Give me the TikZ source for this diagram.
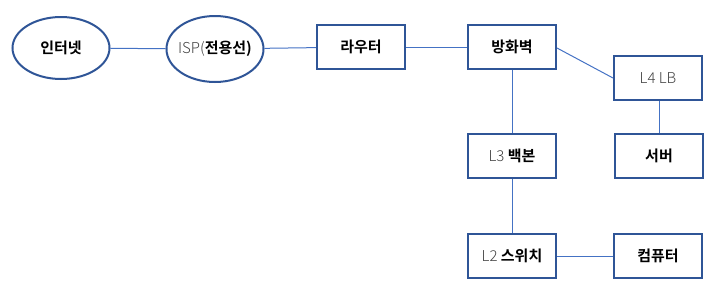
\documentclass[tikz,border=0pt]{standalone}
\usepackage{fontspec}
\setmainfont{Noto Sans CJK KR}[BoldFont={Noto Sans CJK KR Bold}]
\newfontfamily\lightfont{Noto Sans CJK KR Light}
\usetikzlibrary{shapes.geometric}
\definecolor{bordercol}{HTML}{2F5597}
\definecolor{linecol}{HTML}{4472C4}
\definecolor{textgrey}{HTML}{404040}
\newcommand{\lt}[1]{{\mdseries\lightfont #1}}
\newcommand{\bk}[1]{\textcolor{black}{#1}}
\begin{document}
\begin{tikzpicture}[x=1pt,y=-1pt,
  boxnode/.style={draw=bordercol,line width=2pt,minimum width=88pt,minimum height=44pt,inner sep=0pt,font=\fontsize{15}{17}\selectfont\bfseries},
  ellnode/.style={draw=bordercol,line width=2pt,ellipse,minimum width=97pt,minimum height=62pt,inner sep=0pt,font=\fontsize{15}{17}\selectfont\bfseries},
  txtnode/.style={inner sep=0pt,text=textgrey,font=\fontsize{15}{17}\selectfont\bfseries},
  conn/.style={draw=linecol,line width=1pt}]
\useasboundingbox (0,0) rectangle (713,290);
\node[ellnode] (inet) at (61,48) {인터넷};
\node[ellnode,minimum height=66pt] (isp) at (215,49) {};
\node[boxnode] (router) at (361,47) {라우터};
\node[boxnode] (fw) at (512,47) {방화벽};
\node[boxnode] (lb) at (658,78) {};
\node[boxnode] (l3) at (512,156) {};
\node[boxnode] (srv) at (659,156) {서버};
\node[boxnode] (l2) at (512,256) {};
\node[boxnode] (pc) at (658,256) {컴퓨터};
\draw[conn] (inet) -- (isp);
\draw[conn] (isp) -- (router);
\draw[conn] (router) -- (fw);
\draw[conn] (fw.east) ++(0,1) coordinate (fwe) (fwe) -- (lb.west);
\draw[conn] (fw) -- (l3);
\draw[conn] (l3) -- (l2);
\draw[conn] (lb.south -| srv) -- (srv);
\draw[conn] (l2) -- (pc);
\node[txtnode] (ispt) at (isp) {\lt{ISP(}\bk{전용선)}};
\node[txtnode] (lbt) at (lb) {\lt{L4 LB}};
\node[txtnode] (l3t) at (l3) {\lt{L3} \bk{백본}};
\node[txtnode] (l2t) at (l2) {\lt{L2} \bk{스위치}};
\end{tikzpicture}
\end{document}
